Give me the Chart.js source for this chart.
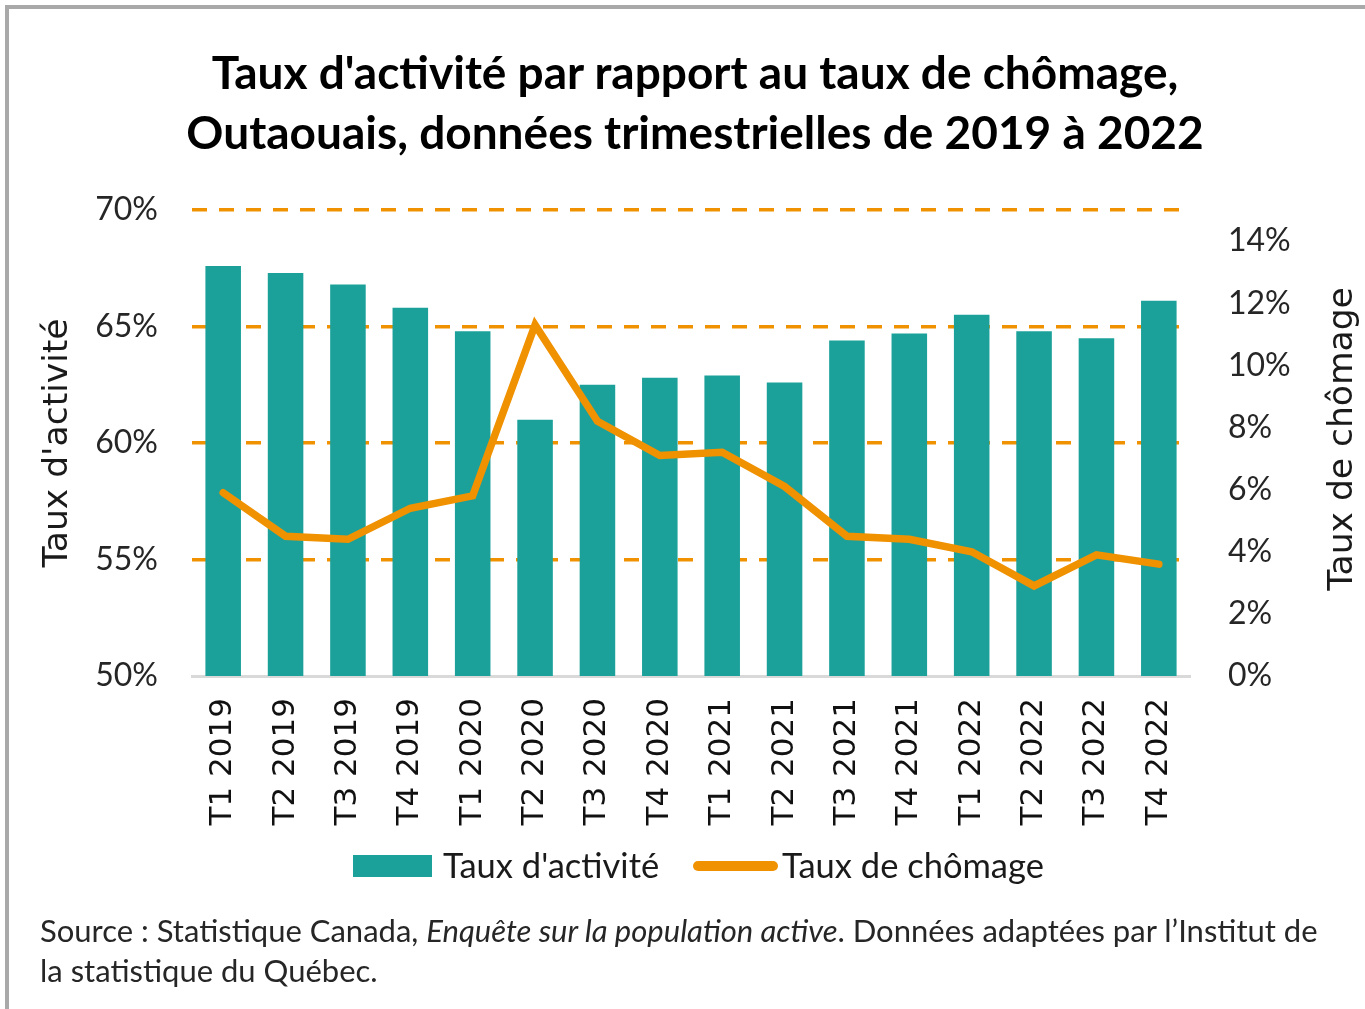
<!DOCTYPE html>
<html>
<head>
<meta charset="utf-8">
<script src="https://cdn.jsdelivr.net/npm/chart.js@4.4.0/dist/chart.umd.min.js"></script>
<style>
  html, body { margin: 0; padding: 0; background: #fff; }
  #wrap { position: relative; width: 1365px; height: 1009px; overflow: hidden; }
  #frame { position: absolute; left: 5px; top: 5px; width: 1400px; height: 1100px;
           border-left: 4px solid #a9a9a9; border-top: 4px solid #a9a9a9; }
  canvas { position: absolute; left: 0; top: 0; }
  .title { position: absolute; left: 0; width: 1390px; text-align: center;
           font: bold 46px Lato, sans-serif; color: #000; line-height: 60px; white-space: nowrap; }
  .leg { position: absolute; font: 34.5px Lato, sans-serif; color: #1a1a1a; line-height: 40px; white-space: nowrap; }
  .source { position: absolute; left: 40px; top: 910px; font: 31px Lato, sans-serif;
            color: #262626; line-height: 40px; white-space: nowrap; }
</style>
</head>
<body>
<div id="wrap">
  <div id="frame"></div>
  <canvas id="chart" width="1365" height="1009"></canvas>
  <div class="title" style="top:42px">Taux d'activité par rapport au taux de chômage,</div>
  <div class="title" style="top:102px">Outaouais, données trimestrielles de 2019 à 2022</div>
  <div id="legend"></div>
  <div class="source">Source : Statistique Canada, <i>Enquête sur la population active</i>. Données adaptées par l’Institut de<br>la statistique du Québec.</div>
</div>
<script>
// Data

const categories = [
  "T1 2019", "T2 2019", "T3 2019", "T4 2019",
  "T1 2020", "T2 2020", "T3 2020", "T4 2020",
  "T1 2021", "T2 2021", "T3 2021", "T4 2021",
  "T1 2022", "T2 2022", "T3 2022", "T4 2022",
];
const tauxActivite = [67.6, 67.3, 66.8, 65.8, 64.8, 61.0, 62.5, 62.8, 62.9, 62.6, 64.4, 64.7, 65.5, 64.8, 64.5, 66.1];
const tauxChomage = [5.9, 4.5, 4.4, 5.4, 5.8, 11.3, 8.2, 7.1, 7.2, 6.1, 4.5, 4.4, 4.0, 2.9, 3.9, 3.6];
const seriesNames = ["Taux d'activité", "Taux de chômage"];
const axisNames = ["Taux d'activité", "Taux de chômage"];

const teal = "#1ba19a";
const orange = "#f09100";

// Legend (html)

const legend = document.getElementById("legend");
legend.innerHTML =
  '<div style="position:absolute;left:353px;top:855px;width:79px;height:22px;background:' + teal + '"></div>' +
  '<div class="leg" style="left:443px;top:845px">' + seriesNames[0] + "</div>" +
  '<div style="position:absolute;left:693px;top:861px;width:85px;height:10px;border-radius:5px;background:' + orange + '"></div>' +
  '<div class="leg" style="left:782px;top:845px">' + seriesNames[1] + "</div>";

// Rotated axis titles (both read bottom to top)

const axisTitles = {
  id: "axisTitles",
  afterDraw(chart) {
    const { ctx, chartArea } = chart;
    const cy = (chartArea.top + chartArea.bottom) / 2;
    ctx.save();
    ctx.font = '34.5px "DejaVu Sans"';
    ctx.fillStyle = "#1a1a1a";
    ctx.textAlign = "center";
    ctx.textBaseline = "middle";
    [[chart.scales.y.left + 58, axisNames[0], cy], [chart.scales.y1.right - 22, axisNames[1], cy - 4]].forEach(([x, t, y]) => {
      ctx.save();
      ctx.translate(x, y);
      ctx.rotate(-Math.PI / 2);
      ctx.fillText(t, 0, 0);
      ctx.restore();
    });
    ctx.restore();
  },
};

// Chart declaration

const ctx = document.getElementById("chart").getContext("2d");
const chart = new Chart(ctx, {
  type: "bar",
  data: {
    labels: categories,
    datasets: [
      {
        type: "line",
        label: seriesNames[1],
        data: tauxChomage,
        yAxisID: "y1",
        borderColor: orange,
        backgroundColor: orange,
        borderWidth: 7.5,
        borderCapStyle: "round",
        borderJoinStyle: "miter",
        pointRadius: 0,
        tension: 0,
        order: 0,
      },
      {
        type: "bar",
        label: seriesNames[0],
        data: tauxActivite,
        yAxisID: "y",
        backgroundColor: teal,
        categoryPercentage: 1,
        barPercentage: 0.57,
        order: 1,
      },
    ],
  },
  options: {
    responsive: false,
    animation: false,
    layout: { padding: { top: 210, left: 0, right: 0, bottom: 183 } },
    plugins: {
      legend: { display: false },
      tooltip: { enabled: false },
    },
    scales: {
      x: {
        grid: { display: false, drawTicks: false },
        border: { display: true, color: "#d9d9d9", width: 3 },
        ticks: {
          minRotation: 90,
          maxRotation: 90,
          padding: 22,
          color: "#111",
          font: { family: "DejaVu Sans", size: 31 },
        },
        afterFit: s => { s.height = 150; },
      },
      y: {
        position: "left",
        min: 50,
        max: 70,
        ticks: {
          stepSize: 5,
          padding: 34,
          color: "#262626",
          font: { family: "Lato", size: 32 },
          callback: v => v + "%",
        },
        grid: {
          color: c => (c.tick && c.tick.value === 50 ? "rgba(0,0,0,0)" : orange),
          lineWidth: 3.5,
          drawTicks: false,
        },
        border: { display: false, dash: [15, 12] },
        afterFit: s => { s.width = 192; },
      },
      y1: {
        position: "right",
        min: 0,
        max: 15,
        ticks: {
          stepSize: 2,
          includeBounds: false,
          padding: 38,
          color: "#262626",
          font: { family: "Lato", size: 32 },
          callback: v => v + "%",
        },
        grid: { display: false, drawTicks: false },
        border: { display: false },
        afterFit: s => { s.width = 175; },
      },
    },
  },
  plugins: [axisTitles],
});
</script>
</body>
</html>
